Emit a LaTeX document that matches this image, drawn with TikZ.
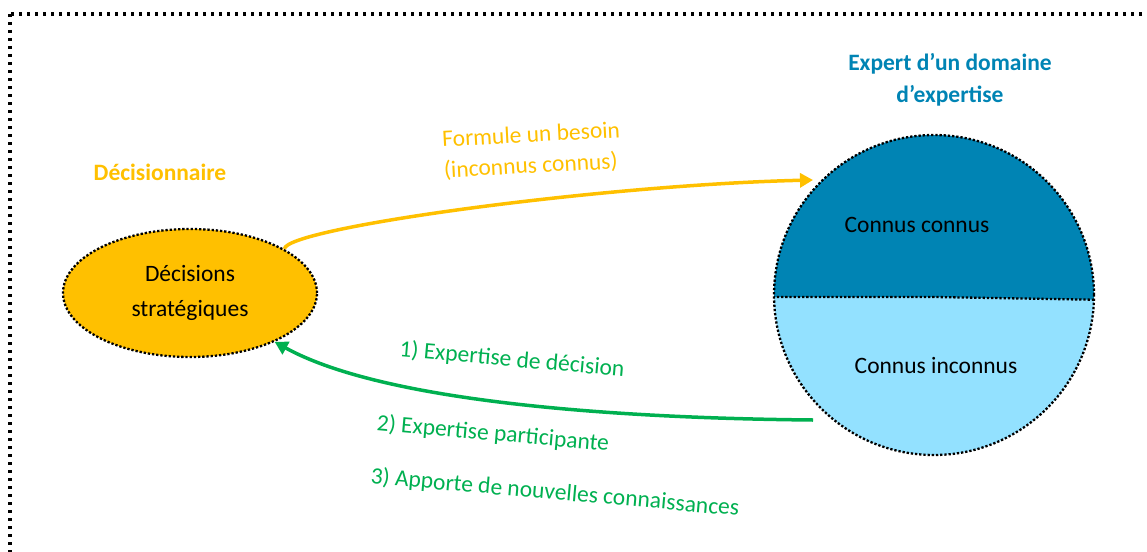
\documentclass[tikz,border=0pt]{standalone}
\usepackage{fontspec}
\setmainfont{Carlito}
\usetikzlibrary{shapes.geometric,arrows.meta}
\definecolor{gold}{HTML}{FFC000}
\definecolor{darkblue}{HTML}{0084B4}
\definecolor{lightblue}{HTML}{93E1FF}
\definecolor{mygreen}{HTML}{00B050}
\begin{document}
\begin{tikzpicture}[x=1pt,y=-1pt,
  every node/.style={font=\fontsize{23.5}{30}\selectfont, inner sep=0pt},
  frame/.style={draw=black, line width=3.2pt, dash pattern=on 3.2pt off 4.8pt},
  fineborder/.style={draw=black, line width=2.3pt, dash pattern=on 2.3pt off 1.9pt},
  title/.style={font=\fontsize{23.5}{32}\selectfont\bfseries, align=center},
  yarrow/.style={draw=gold, line width=3.5pt, -{Triangle[length=13pt,width=14pt]}},
  garrow/.style={draw=mygreen, line width=3.5pt, -{Triangle[length=13pt,width=14pt]}},
  ylabel/.style={text=gold, align=left, rotate=3, font=\fontsize{23.5}{31}\selectfont},
  glabel/.style={text=mygreen, rotate=-5}
]
\useasboundingbox (0,0) rectangle (1147,551);
\clip (0,0) rectangle (1147,551);
\draw[frame] (10,14) rectangle (1180,590);

% Decision ellipse
\node[ellipse, fill=gold, fineborder, text=black, minimum width=254pt, minimum height=128pt, align=center, font=\fontsize{23.5}{35}\selectfont] (dec) at (190,293) {Décisions\\stratégiques};
\node[title, text=gold] (dn) at (160,172) {Décisionnaire};

% Expert circle
\node[circle, fill=lightblue, minimum size=320pt] (exp) at (934,295) {};
\begin{scope}
  \clip (934,295) circle (160pt);
  \fill[darkblue] (760,297) -- (934,297) -- (1110,300) -- (1110,120) -- (760,120) -- cycle;
  \draw[fineborder] (760,297) -- (934,297) -- (1110,300);
\end{scope}
\draw[fineborder] (exp.center) circle (160pt);
\node (kk) at (917,225) {Connus connus};
\node (ki) at (936,365) {Connus inconnus};
\node[title, text=darkblue] (et) at (950,80) {Expert d’un domaine\\d’expertise};

% Arrows
\coordinate (ytip) at (813,180);
\coordinate (gstart) at (813,420);
\draw[yarrow] (dec.25) .. controls (285,228) and (600,185) .. (ytip);
\draw[garrow] (gstart) .. controls (600,418) and (380,400) .. (dec.-30);

% Labels
\node[ylabel] (yl) at (532,151) {Formule un besoin\\(inconnus connus)};
\node[glabel] (g1) at (512,360) {1) Expertise de décision};
\node[glabel] (g2) at (493,434) {2) Expertise participante};
\node[glabel] (g3) at (555,493) {3) Apporte de nouvelles connaissances};
\end{tikzpicture}
\end{document}
